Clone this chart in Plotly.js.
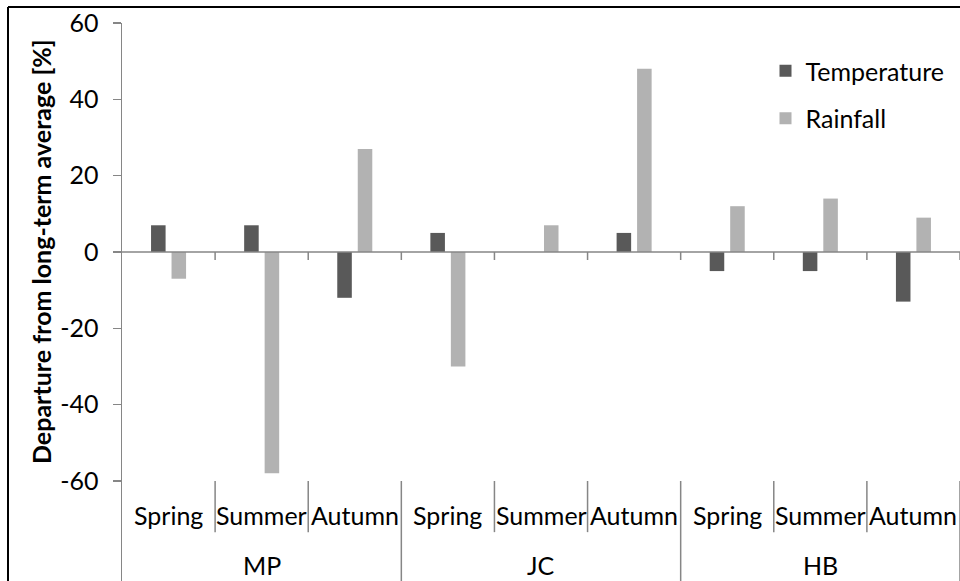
<!DOCTYPE html>
<html>
<head>
<meta charset="utf-8">
<script src="https://cdn.plot.ly/plotly-3.0.1.min.js"></script>
<style>html,body{margin:0;padding:0;background:#fff;}#chart{width:960px;height:581px;}</style>
</head>
<body>
<div id="chart"></div>
<script>
// ---- data ----
const sites = ['MP', 'JC', 'HB'];
const seasons = ['Spring', 'Summer', 'Autumn'];
const temperature = [7, 7, -12, 5, 0, 5, -5, -5, -13];
const rainfall = [-7, -58, 27, -30, 7, 48, 12, 14, 9];
const yTicks = [-60, -40, -20, 0, 20, 40, 60];

// ---- derived ----
const nCat = sites.length * seasons.length;
const xPos = [];
for (let i = 0; i < nCat; i++) xPos.push(i + 0.5);

const FONT = 'Lato, "Open Sans", sans-serif';
const FS = 25;
const AXC = '#868686';
const yMin = -86.2, yMax = 60;
const labelRowY = -68.9, groupRowY = -82.0, sepEndY = -73.4, tickEndY = -2.1;

const traces = [
  {type: 'bar', name: 'Temperature', x: xPos, y: temperature,
   marker: {color: '#595959'}, legendgroup: 't', hoverinfo: 'y'},
  {type: 'bar', name: 'Rainfall', x: xPos, y: rainfall,
   marker: {color: '#b2b2b2'}, legendgroup: 'r', hoverinfo: 'y'}
];

const shapes = [];
const annotations = [];
// zero line (with short extension left of axis)
shapes.push({type: 'line', xref: 'paper', yref: 'y', x0: -9/838, x1: 1, y0: 0, y1: 0,
  line: {color: AXC, width: 1.5}});
for (let b = 1; b <= nCat; b++) {
  // tick marks below zero line at category boundaries
  shapes.push({type: 'line', xref: 'x', yref: 'y', x0: b, x1: b, y0: 0, y1: tickEndY,
    line: {color: AXC, width: 1.5}});
  // separators in label area
  const isGroup = (b % seasons.length === 0);
  shapes.push({type: 'line', xref: 'x', yref: 'y', x0: b, x1: b, y0: -60, y1: isGroup ? yMin : sepEndY,
    line: {color: AXC, width: 1.5}});
}
// outer frame (left & top)
shapes.push({type: 'line', xref: 'paper', yref: 'paper', x0: -114/838, x1: -114/838, y0: -0.1, y1: 574/558,
  line: {color: '#000', width: 2}});
shapes.push({type: 'line', xref: 'paper', yref: 'paper', x0: -114/838, x1: 1.1, y0: 574/558, y1: 574/558,
  line: {color: '#000', width: 2}});

// category labels
for (let s = 0; s < sites.length; s++) {
  for (let k = 0; k < seasons.length; k++) {
    annotations.push({xref: 'x', yref: 'y', x: s * seasons.length + k + 0.5, y: labelRowY,
      text: seasons[k], showarrow: false, xanchor: 'center', yanchor: 'middle',
      font: {family: FONT, size: FS, color: '#000'}});
  }
  annotations.push({xref: 'x', yref: 'y', x: s * seasons.length + seasons.length / 2, y: groupRowY,
    text: sites[s], showarrow: false, xanchor: 'center', yanchor: 'middle',
    font: {family: FONT, size: FS, color: '#000'}});
}
// y axis title
annotations.push({xref: 'paper', yref: 'paper', x: (41 - 122) / 838, y: (581 - 252) / 558,
  text: '<b>Departure from long-term average [%]</b>', textangle: -90, showarrow: false,
  xanchor: 'center', yanchor: 'middle', font: {family: FONT, size: 25, color: '#000'}});

const layout = {
  width: 960, height: 581,
  margin: {l: 122, r: 0, t: 23, b: 0, pad: 0},
  paper_bgcolor: '#fff', plot_bgcolor: '#fff',
  barmode: 'group', bargap: 0.56, bargroupgap: 0.29,
  showlegend: true,
  legend: {x: (765.5 - 122) / 838, xanchor: 'left', y: (581 - 48) / 558, yanchor: 'top',
    traceorder: 'grouped', tracegroupgap: 12, bgcolor: 'rgba(0,0,0,0)',
    font: {family: FONT, size: FS, color: '#000'}},
  xaxis: {range: [0, nCat], visible: false, fixedrange: true},
  yaxis: {range: [yMin, yMax], tickvals: yTicks, ticktext: yTicks.map(String),
    showgrid: false, zeroline: false, showline: true, linecolor: AXC, linewidth: 1.5,
    ticks: 'outside', ticklen: 8, tickwidth: 1.5, tickcolor: AXC, ticklabelstandoff: 9,
    tickfont: {family: FONT, size: FS, color: '#000'}, fixedrange: true},
  shapes: shapes,
  annotations: annotations
};

Plotly.newPlot('chart', traces, layout, {displayModeBar: false, staticPlot: true});
</script>
</body>
</html>
